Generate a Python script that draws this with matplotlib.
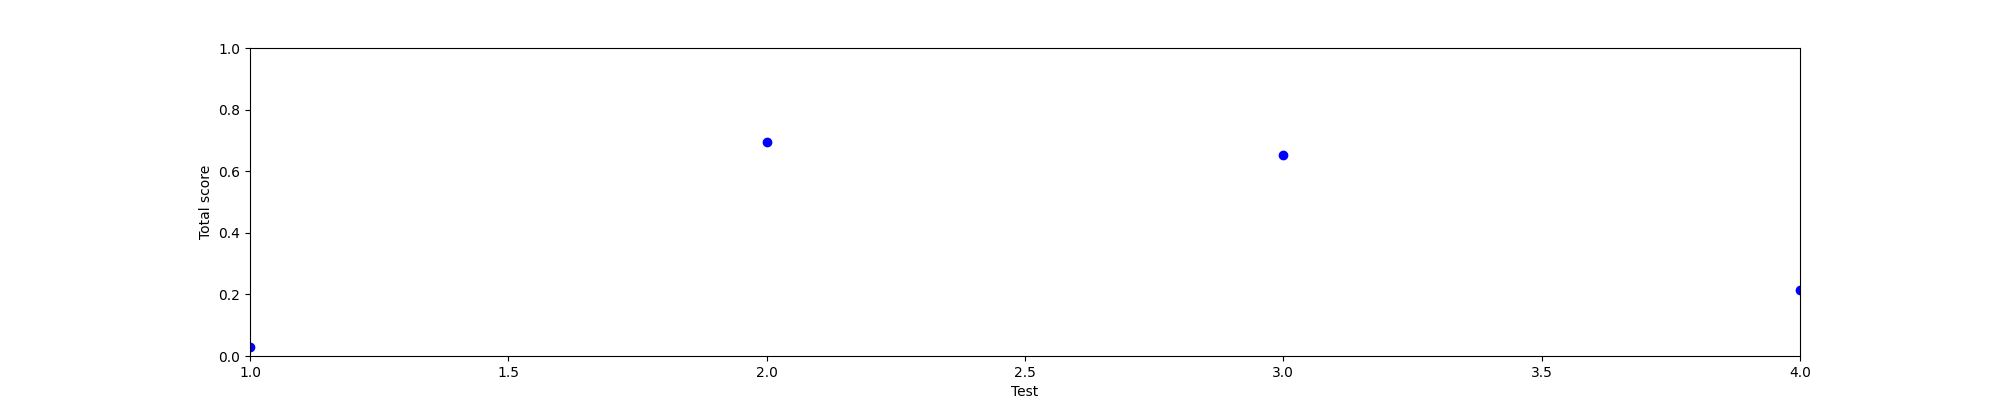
import matplotlib
matplotlib.use("Agg")
import matplotlib.pyplot as plt

tests = [1, 2, 3, 4]
scores = [0.028, 0.694, 0.652, 0.213]

fig, ax = plt.subplots(figsize=(20, 4), dpi=100)
ax.plot(tests, scores, 'bo')
ax.set_xlim(1, 4)
ax.set_ylim(0, 1)
ax.set_xlabel("Test")
ax.set_ylabel("Total score")
fig.savefig("out.png", dpi=100)
